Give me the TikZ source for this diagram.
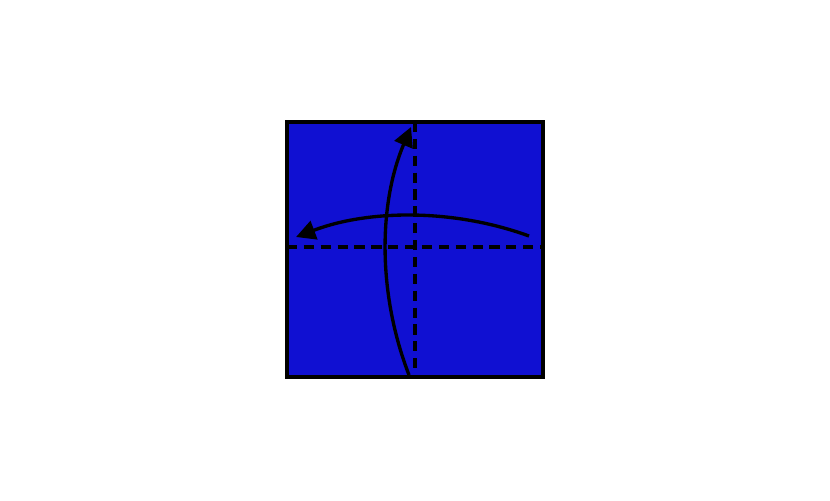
\documentclass[tikz,border=0pt]{standalone}
\usepackage[dvipsnames,svgnames,table]{xcolor}
\definecolor{paperblue}{HTML}{1010D2}
\definecolor{inkblack}{HTML}{000000}
\usepackage{tikz}
\usetikzlibrary{arrows.meta,calc}

\begin{document}
\begin{tikzpicture}[
  x=0.02cm, y=-0.02cm,
  paper/.style={fill=paperblue, draw=inkblack, line width=1.9pt},
  creaseline/.style={draw=inkblack, line width=1.9pt, dash pattern=on 5.8pt off 3.8pt},
  foldarrow/.style={draw=inkblack, line width=1.9pt,
    -{Triangle[length=11pt, width=11pt]}},
]

% === CANVAS ===
\useasboundingbox (0,0) rectangle (830,500);

% === SQUARE SHEET ===
\coordinate (tl) at (287,122);
\coordinate (br) at (543,377);
\draw[paper] (tl) rectangle (br);

% === CREASES ===
\coordinate (vtop) at (415,122);
\coordinate (vbot) at (415,377);
\coordinate (hleft) at (287,247);
\coordinate (hright) at (543,247);
\draw[creaseline] (vtop) -- (vbot);
\draw[creaseline] (hleft) -- (hright);

% === FOLD ARROWS ===
\coordinate (upstart) at (409,375);
\coordinate (uptip) at (411,127);
\draw[foldarrow] (upstart) .. controls (378,295) and (378,205) .. (uptip);

\coordinate (leftstart) at (529,236);
\coordinate (lefttip) at (296,237);
\draw[foldarrow] (leftstart) .. controls (455,209) and (370,209) .. (lefttip);

\end{tikzpicture}
\end{document}
